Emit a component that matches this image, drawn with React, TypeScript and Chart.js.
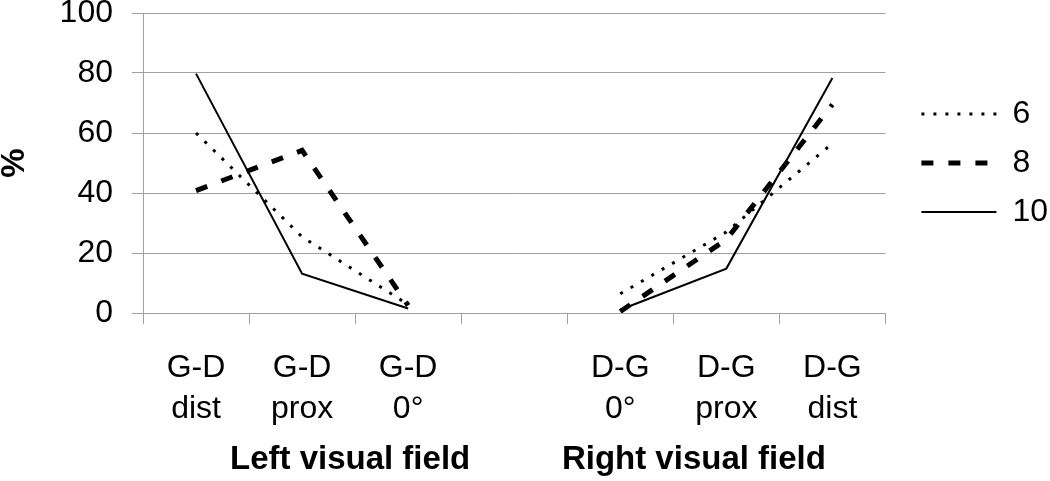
import React, { useEffect, useRef } from 'react';
import { Chart, registerables } from 'chart.js';

Chart.register(...registerables);

const categories: (string | string[])[] = [
  ['G-D', 'dist'],
  ['G-D', 'prox'],
  ['G-D', '0°'],
  '',
  ['D-G', '0°'],
  ['D-G', 'prox'],
  ['D-G', 'dist'],
];

const seriesLabels = ['6', '8', '10'];
const values6 = [60, 25.4, 2.8, null, 6.4, 27, 56.5];
const values8 = [40.8, 54.2, 2.5, null, 0.5, 24.5, 69.5];
const values10 = [79.8, 13.1, 1.5, null, 1.1, 14.8, 78.3];

const yTicks = [0, 20, 40, 60, 80, 100];
const xTitle = '   Left visual field          Right visual field';
const yTitle = '%';

const FONT = "'Liberation Sans', Arial, Helvetica, sans-serif";
const GRID = '#a0a0a0';

export default function App() {
  const ref = useRef<HTMLCanvasElement>(null);

  useEffect(() => {
    if (!ref.current) return;
    Chart.defaults.font.family = FONT;
    Chart.defaults.color = '#000';

    const legendShift = {
      id: 'legendShift',
      afterLayout(chart: any) {
        const lg = chart.legend;
        if (lg) {
          lg.left += 19;
          lg.right += 19;
        }
      },
    };

    const defaultGen = (Chart.defaults.plugins.legend.labels as any).generateLabels;

    const chart = new Chart(ref.current, {
      type: 'line',
      data: {
        labels: categories as any,
        datasets: [
          {
            label: seriesLabels[0],
            data: values6,
            borderColor: '#000',
            backgroundColor: '#000',
            borderWidth: 3,
            borderDash: [3, 9],
            pointRadius: 0,
            tension: 0,
          },
          {
            label: seriesLabels[1],
            data: values8,
            borderColor: '#000',
            backgroundColor: '#000',
            borderWidth: 5,
            borderDash: [12, 15],
            pointRadius: 0,
            tension: 0,
          },
          {
            label: seriesLabels[2],
            data: values10,
            borderColor: '#000',
            backgroundColor: '#000',
            borderWidth: 2,
            pointRadius: 0,
            tension: 0,
          },
        ],
      },
      options: {
        responsive: false,
        animation: false,
        layout: { padding: { top: 13, right: 11, left: 0, bottom: 0 } },
        plugins: {
          tooltip: { enabled: false },
          legend: {
            display: true,
            position: 'right',
            fullSize: false,
            align: 'center',
            labels: {
              usePointStyle: true,
              pointStyle: 'line',
              pointStyleWidth: 75,
              padding: 17,
              color: '#000',
              font: { size: 32, family: FONT },
              generateLabels: (chart: any) => {
                const items = defaultGen(chart);
                return items.map((it: any) => {
                  const ds = chart.data.datasets[it.datasetIndex];
                  return {
                    ...it,
                    lineDash: ds.borderDash || [],
                    lineWidth: ds.borderWidth,
                    strokeStyle: ds.borderColor,
                    lineCap: 'butt',
                  };
                });
              },
            },
          },
        },
        scales: {
          x: {
            type: 'category',
            offset: true,
            grid: {
              offset: true,
              drawOnChartArea: false,
              drawTicks: true,
              tickLength: 11,
              color: GRID,
            },
            border: { color: GRID },
            ticks: {
              autoSkip: false,
              maxRotation: 0,
              minRotation: 0,
              padding: 24,
              color: '#000',
              font: { size: 32, lineHeight: 1.28, family: FONT },
            },
            title: {
              display: true,
              text: xTitle,
              color: '#000',
              font: { size: 33, weight: 'bold', lineHeight: 1.2, family: FONT },
              padding: { top: 0, bottom: 1 },
            },
            afterFit: (s: any) => {
              s.height = 168;
              s.paddingLeft = 0;
              s.paddingRight = 0;
            },
          },
          y: {
            min: 0,
            max: 100,
            afterBuildTicks: (s: any) => {
              s.ticks = yTicks.map((v) => ({ value: v }));
            },
            grid: { color: GRID, tickLength: 11 },
            border: { color: GRID },
            ticks: {
              padding: 19,
              color: '#000',
              font: { size: 32, lineHeight: 0.8, family: FONT },
            },
            title: {
              display: true,
              text: yTitle,
              color: '#000',
              font: { size: 33, weight: 'bold', lineHeight: 0.9, family: FONT },
              padding: { top: 0, bottom: 0 },
            },
            afterFit: (s: any) => {
              s.width = 143;
              s.paddingTop = 0;
              s.paddingBottom = 0;
            },
          },
        },
      },
      plugins: [legendShift],
    });

    return () => chart.destroy();
  }, []);

  return (
    <div style={{ position: 'fixed', left: 0, top: 0, width: 1050, height: 481, background: '#fff' }}>
      <canvas ref={ref} width={1050} height={481} />
    </div>
  );
}
